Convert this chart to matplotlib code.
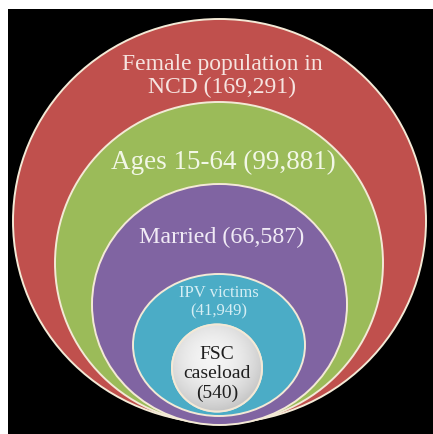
import numpy as np
import matplotlib
matplotlib.use("Agg")
import matplotlib.pyplot as plt
from matplotlib.patches import Ellipse, Rectangle

# ---- data ----
groups = ["Female population in NCD", "Ages 15-64", "Married", "IPV victims", "FSC caseload"]
counts = [169291, 99881, 66587, 41949, 540]
labels = ["Female population in\nNCD (169,291)",
          "Ages 15-64 (99,881)",
          "Married (66,587)",
          "IPV victims\n(41,949)",
          "FSC\ncaseload\n(540)"]

# ---- layout / style (pixel coordinates of the 433x435 canvas) ----
centers = [(219.5, 222), (219, 264), (219.5, 305.5), (219, 346), (217, 369)]
widths = [413, 328, 255, 172, 90]
heights = [404, 322, 241, 142, 87]
fills = ["#C0504D", "#9BBB59", "#8064A2", "#4BACC6", "#E6E6E6"]
text_pos = [(222, 76), (223, 162), (222, 237), (219, 302), (217, 374)]
text_size = [17, 19.5, 17.3, 12, 14]
text_col = ["#F6E4E0", "#F2F7E6", "#F0EAF5", "#D6EEF4", "#1E1E1E"]
text_ls = [1.1, 1.0, 1.0, 1.15, 1.2]

W, H = 433, 435
fig = plt.figure(figsize=(W / 100, H / 100), dpi=100)
fig.patch.set_facecolor("white")
ax = fig.add_axes([0, 0, 1, 1])
ax.set_xlim(0, W)
ax.set_ylim(H, 0)
ax.axis("off")

ax.add_patch(Rectangle((8, 10), W - 8, H - 10, facecolor="black", edgecolor="none", zorder=0))

for i, (c, w, h, f) in enumerate(zip(centers, widths, heights, fills)):
    e = Ellipse(c, w, h, facecolor=f, edgecolor="#F3E9D6", lw=1.4, zorder=1 + i)
    ax.add_patch(e)

# radial gradient on the innermost circle
c, w, h = centers[-1], widths[-1], heights[-1]
yy, xx = np.mgrid[0:1:200j, 0:1:200j]
r = np.sqrt((xx - 0.45) ** 2 + (yy - 0.4) ** 2) / 0.6
r = np.clip(r, 0, 1)
shade = 0.96 - 0.18 * r ** 2
img = np.dstack([shade, shade, shade])
im = ax.imshow(img, extent=(c[0] - w / 2, c[0] + w / 2, c[1] + h / 2, c[1] - h / 2),
               zorder=6, interpolation="bilinear")
clip = Ellipse(c, w, h, transform=ax.transData, facecolor="none", edgecolor="none")
ax.add_patch(clip)
im.set_clip_path(clip)
ax.add_patch(Ellipse(c, w, h, facecolor="none", edgecolor="#F3E9D6", lw=1.4, zorder=7))

for lab, p, s, col, ls in zip(labels, text_pos, text_size, text_col, text_ls):
    ax.text(p[0], p[1], lab, ha="center", va="center", fontsize=s, color=col,
            family="Liberation Serif", linespacing=ls, zorder=10)

ax.set_xlim(0, W)
ax.set_ylim(H, 0)
fig.savefig("out.png", dpi=100, facecolor="white")
